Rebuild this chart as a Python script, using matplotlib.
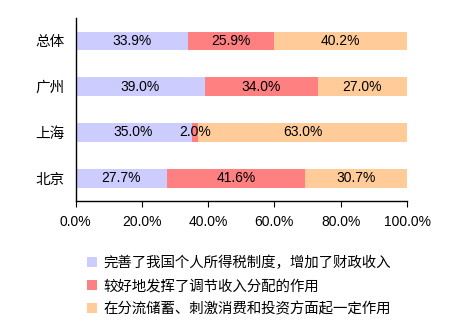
import matplotlib
matplotlib.use("Agg")
import matplotlib.pyplot as plt
from matplotlib.patches import Patch
import numpy as np

plt.rcParams['font.family'] = ['Liberation Sans', 'Noto Sans CJK SC']

categories = ['北京', '上海', '广州', '总体']
series_names = ['完善了我国个人所得税制度，增加了财政收入',
                '较好地发挥了调节收入分配的作用',
                '在分流储蓄、刺激消费和投资方面起一定作用']
s1 = [27.7, 35.0, 39.0, 33.9]
s2 = [41.6, 2.0, 34.0, 25.9]
s3 = [30.7, 63.0, 27.0, 40.2]
xticks = [0, 20, 40, 60, 80, 100]
xtick_labels = ['0.0%', '20.0%', '40.0%', '60.0%', '80.0%', '100.0%']
colors = ['#CCCCFF', '#FF8080', '#FFCC99']

fig = plt.figure(figsize=(4.56, 3.27), dpi=100)
ax = fig.add_axes([0.1656, 0.3853, 0.727, 0.5596])

y = np.arange(len(categories))
left = np.zeros(len(categories))
for vals, c in zip([s1, s2, s3], colors):
    vals = np.array(vals)
    ax.barh(y, vals, left=left, height=0.41, color=c, edgecolor='none')
    for yi, l, v in zip(y, left, vals):
        ax.text(l + v / 2, yi, f'{v:.1f}%', ha='center', va='center', fontsize=10, color='black')
    left = left + vals

ax.set_xlim(0, 100)
ax.set_ylim(-0.5, 3.5)
ax.set_yticks(y)
ax.set_yticklabels(categories, fontsize=10.5)
ax.set_xticks(xticks)
ax.set_xticklabels(xtick_labels, fontsize=10)
ax.tick_params(axis='y', length=0, pad=8)
ax.tick_params(axis='x', length=4, direction='out', pad=6)
for s in ['top', 'right']:
    ax.spines[s].set_visible(False)
ax.spines['left'].set_linewidth(1)
ax.spines['bottom'].set_linewidth(1)

handles = [Patch(facecolor=c, edgecolor='none') for c in colors]
fig.legend(handles, series_names, loc='upper left', bbox_to_anchor=(0.191, 0.217),
           frameon=False, fontsize=10.4, handlelength=0.7, handleheight=0.7,
           handletextpad=0.4, labelspacing=0.62, borderaxespad=0, borderpad=0)

fig.savefig('out.png', dpi=100)
